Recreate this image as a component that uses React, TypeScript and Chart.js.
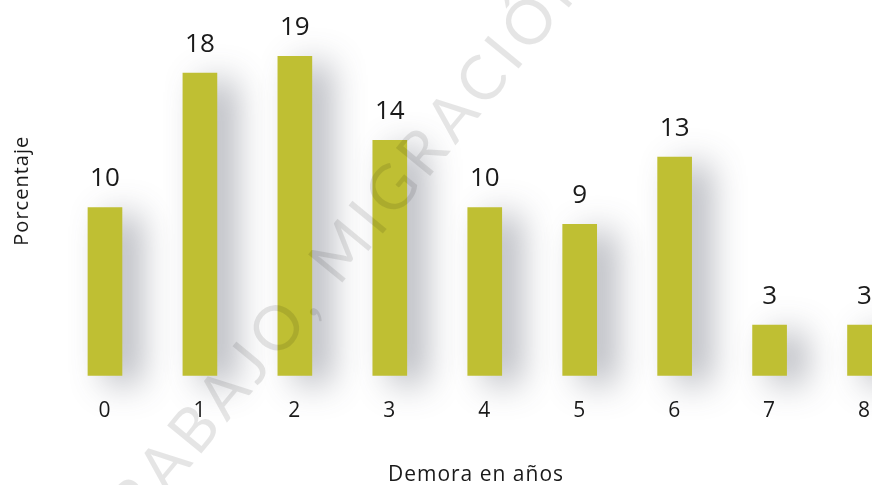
import React, { useEffect, useRef } from "react";
import { Chart, registerables } from "chart.js";

Chart.register(...registerables);

const categories = ["0", "1", "2", "3", "4", "5", "6", "7", "8"];
const percentages = [10, 18, 19, 14, 10, 9, 13, 3, 3];
const xTitle = "Demora en años";
const yTitle = "Porcentaje";
const watermark = "TRABAJO, MIGRACIÓN";

const FONT = "'Open Sans', Lato, sans-serif";

const decorPlugin = {
  id: "decor",
  beforeDraw(chart: any) {
    const ctx = chart.ctx;
    ctx.save();
    (ctx as any).letterSpacing = "1px";
  },
  beforeDatasetsDraw(chart: any) {
    const ctx = chart.ctx;
    ctx.save();
    ctx.shadowColor = "rgba(70,75,90,0.42)";
    ctx.shadowBlur = 34;
    ctx.shadowOffsetX = 18;
    ctx.shadowOffsetY = 8;
  },
  afterDatasetsDraw(chart: any) {
    const ctx = chart.ctx;
    ctx.restore();
    const meta = chart.getDatasetMeta(0);
    ctx.save();
    ctx.font = `26px ${FONT}`;
    (ctx as any).letterSpacing = "0px";
    ctx.fillStyle = "#1a1a1a";
    ctx.textAlign = "center";
    ctx.textBaseline = "middle";
    meta.data.forEach((el: any, i: number) => {
      ctx.fillText(String(percentages[i]), el.x, el.y - 29);
    });
    ctx.restore();
  },
  afterDraw(chart: any) {
    const ctx = chart.ctx;
    ctx.restore();
    // x-axis title
    ctx.save();
    ctx.font = `21px ${FONT}`;
    (ctx as any).letterSpacing = "1px";
    ctx.fillStyle = "#1a1a1a";
    ctx.textAlign = "center";
    ctx.textBaseline = "middle";
    ctx.fillText(xTitle, 476, 475);
    ctx.restore();
    // watermark
    ctx.save();
    ctx.translate(340, 254);
    ctx.rotate((-50.5 * Math.PI) / 180);
    ctx.font = `400 62px Lato, ${FONT}`;
    (ctx as any).letterSpacing = "6px";
    ctx.fillStyle = "rgba(0,0,0,0.1)";
    ctx.textAlign = "center";
    ctx.textBaseline = "middle";
    ctx.fillText(watermark, 0, 0);
    ctx.restore();
  },
};

export default function App() {
  const ref = useRef<HTMLCanvasElement>(null);
  useEffect(() => {
    if (!ref.current) return;
    const chart = new Chart(ref.current, {
      type: "bar",
      data: {
        labels: categories,
        datasets: [
          {
            data: percentages,
            backgroundColor: "#bfbf33",
            barThickness: 34,
            clip: false as any,
          },
        ],
      },
      options: {
        responsive: false,
        animation: false,
        layout: { padding: { left: 6, top: 6, right: 3, bottom: 0 } },
        plugins: { legend: { display: false }, tooltip: { enabled: false } },
        scales: {
          x: {
            grid: { display: false, drawTicks: false },
            border: { display: false },
            ticks: { color: "#1a1a1a", font: { size: 21, family: FONT }, padding: 23 },
            title: { display: false, text: xTitle },
            afterFit: (s: any) => {
              s.height = 109.5;
            },
          },
          y: {
            min: 0,
            max: 22,
            grid: { display: false, drawTicks: false },
            border: { display: false },
            ticks: { display: false },
            title: {
              display: true,
              text: yTitle,
              color: "#1a1a1a",
              font: { size: 20, family: FONT },
            },
            afterFit: (s: any) => {
              s.width = 51.5;
            },
          },
        },
      },
      plugins: [decorPlugin],
    });
    return () => chart.destroy();
  }, []);
  return (
    <div
      style={{
        position: "fixed",
        left: 0,
        top: 0,
        width: 872,
        height: 485,
        overflow: "hidden",
        background: "#fff",
      }}
    >
      <canvas ref={ref} width={915} height={485} style={{ display: "block" }} />
    </div>
  );
}
